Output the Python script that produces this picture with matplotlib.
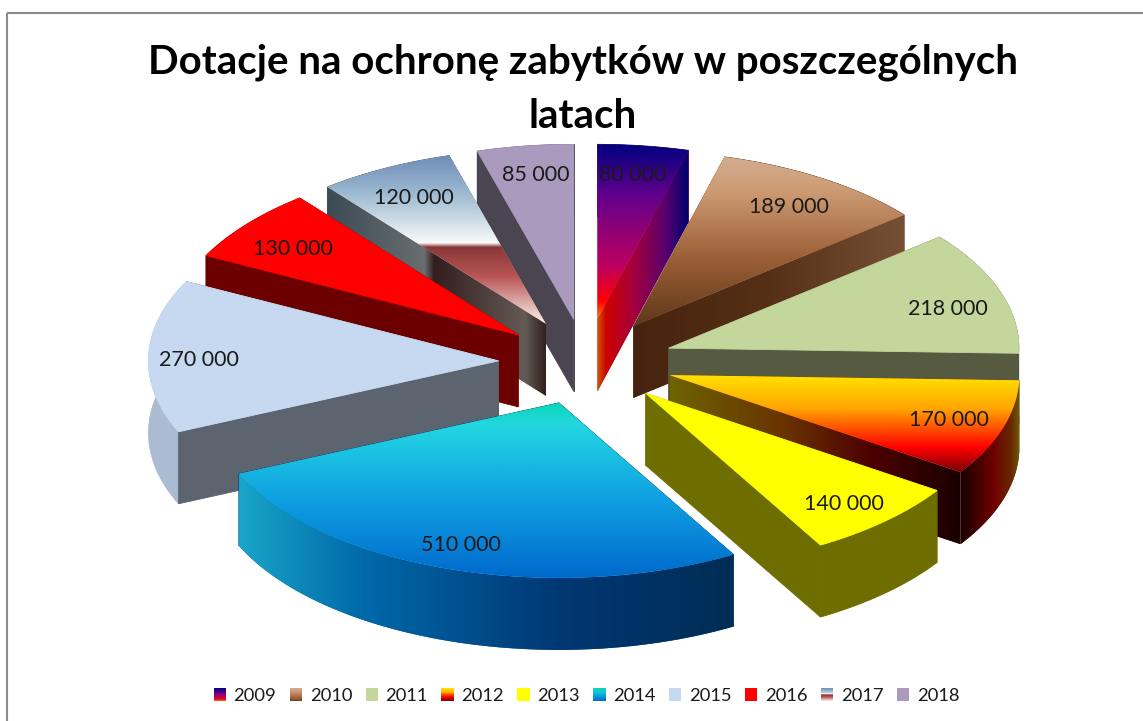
import numpy as np
import matplotlib
matplotlib.use("Agg")
import matplotlib.pyplot as plt
from matplotlib.colors import LinearSegmentedColormap, to_hex
from matplotlib.patches import Polygon, Rectangle, Patch
from matplotlib.legend_handler import HandlerBase

# ---------- data ----------
TITLE = "Dotacje na ochronę zabytków w poszczególnych\nlatach"
YEARS = ["2009", "2010", "2011", "2012", "2013", "2014", "2015", "2016", "2017", "2018"]
VALUES = [80000, 189000, 218000, 170000, 140000, 510000, 270000, 130000, 120000, 85000]


def rgb(*c):
    return tuple(v / 255 for v in c)


def stops(*pairs):
    return [(p, rgb(*c)) for p, c in pairs]


# ---------- styles: top face (vertical), cut face / outer face (horizontal) ----------
TOP = [
    stops((0, (0, 0, 128)), (.3, (100, 0, 140)), (.7, (190, 0, 95)), (.9, (255, 0, 0)), (1, (255, 130, 0))),
    stops((0, (212, 172, 145)), (.2, (205, 155, 115)), (.6, (155, 95, 55)), (1, (95, 55, 25))),
    stops((0, (195, 214, 155)), (1, (195, 214, 155))),
    stops((0, (255, 228, 0)), (.35, (255, 165, 0)), (.75, (255, 0, 0)), (1, (120, 0, 10))),
    stops((0, (255, 255, 0)), (1, (255, 255, 0))),
    stops((0, (10, 215, 180)), (.12, (35, 215, 225)), (.55, (15, 160, 225)), (1, (0, 105, 205))),
    stops((0, (198, 217, 240)), (1, (198, 217, 240))),
    stops((0, (255, 0, 0)), (1, (255, 0, 0))),
    stops((0, (110, 140, 185)), (.2, (150, 180, 205)), (.42, (215, 228, 235)), (.52, (250, 250, 250)),
          (.545, (135, 55, 55)), (.72, (185, 85, 85)), (.93, (235, 205, 200)), (1, (250, 240, 235))),
    stops((0, (170, 155, 190)), (1, (170, 155, 190))),
]
CUT = [
    stops((0, (205, 95, 0)), (.1, (205, 0, 0)), (.4, (165, 0, 60)), (.75, (90, 0, 110)), (1, (0, 0, 110))),
    stops((0, (70, 35, 15)), (.5, (85, 48, 22)), (1, (118, 80, 52))),
    stops((0, (85, 90, 65)), (1, (85, 90, 65))),
    stops((0, (110, 100, 0)), (.4, (105, 50, 0)), (.7, (75, 0, 0)), (1, (25, 0, 0))),
    stops((0, (110, 110, 0)), (1, (110, 110, 0))),
    stops((0, (0, 60, 110)), (1, (0, 60, 110))),
    stops((0, (92, 100, 112)), (1, (92, 100, 112))),
    stops((0, (108, 0, 0)), (1, (108, 0, 0))),
    stops((0, (60, 75, 85)), (.44, (105, 110, 112)), (.485, (50, 30, 30)), (.9, (100, 90, 85)), (1, (45, 30, 25))),
    stops((0, (74, 69, 80)), (1, (74, 69, 80))),
]
ARC = [
    stops((0, (0, 0, 110)), (1, (0, 0, 110))),
    stops((0, (90, 50, 25)), (1, (90, 50, 25))),
    stops((0, (85, 90, 65)), (1, (85, 90, 65))),
    stops((0, (25, 0, 0)), (.55, (110, 0, 0)), (.85, (105, 40, 0)), (1, (110, 95, 0))),
    stops((0, (110, 110, 0)), (1, (110, 110, 0))),
    stops((0, (25, 165, 200)), (.25, (0, 105, 170)), (.65, (0, 55, 115)), (1, (0, 45, 85))),
    stops((0, (170, 187, 210)), (1, (170, 187, 210))),
    stops((0, (108, 0, 0)), (1, (108, 0, 0))),
    stops((0, (60, 75, 85)), (1, (60, 75, 85))),
    stops((0, (74, 69, 80)), (1, (74, 69, 80))),
]
LEGEND = [
    stops((0, (0, 0, 128)), (.5, (130, 0, 130)), (.85, (230, 0, 40)), (1, (255, 110, 0))),
    stops((0, (212, 172, 145)), (.5, (190, 130, 90)), (1, (120, 70, 35))),
    TOP[2],
    stops((0, (255, 228, 0)), (.35, (255, 165, 0)), (.7, (255, 0, 0)), (1, (120, 0, 10))),
    TOP[4],
    stops((0, (10, 215, 180)), (.4, (20, 190, 225)), (1, (0, 105, 205))),
    TOP[6],
    TOP[7],
    TOP[8],
    TOP[9],
]

# ---------- pie geometry (image pixels) ----------
W, H = 1143, 721
CX, CY = 586, 362
RADIUS = 350
SQUASH = 0.5
EXPLODE_X, EXPLODE_Y = 87.5, 43
DEPTH = 72
# label position along the slice's middle direction, per slice
LABEL_FX = [.76, .818, .841, .837, .829, .899, .855, .83, .822, .783]
LABEL_FY = [.847, .827, .745, .79, .84, .839, .87, .805, .826, .848]
LABEL_DY = 3

plt.rcParams["font.family"] = ["Lato", "DejaVu Sans"]
fig = plt.figure(figsize=(W / 100, H / 100), dpi=100, facecolor="white")
ax = fig.add_axes([0, 0, 1, 1])
ax.set_xlim(0, W)
ax.set_ylim(H, 0)
ax.axis("off")

ax.add_patch(Rectangle((7, 13), W + 20, H + 20, fill=False, edgecolor="#8c8c8c", linewidth=1.5, zorder=0))

zorder = [1]


def paint(points, colour_stops, vertical):
    """Fill one face, flat or with a linear gradient clipped to it."""
    z = zorder[0]
    zorder[0] += 1
    mean = tuple(np.mean([c for _, c in colour_stops], axis=0))
    flat = all(c == colour_stops[0][1] for _, c in colour_stops)
    colour = colour_stops[0][1] if flat else mean
    poly = Polygon(points, closed=True, facecolor=colour, edgecolor=colour if flat else "none",
                   linewidth=0.6 if flat else 0, zorder=z)
    ax.add_patch(poly)
    if flat:
        return
    cmap = LinearSegmentedColormap.from_list("g", colour_stops, N=512)
    ramp = np.linspace(0, 1, 512).reshape((-1, 1) if vertical else (1, -1))
    x0, y0 = points.min(axis=0)
    x1, y1 = points.max(axis=0)
    im = ax.imshow(ramp, cmap=cmap, extent=(x0, x1, y1, y0), origin="upper",
                   aspect="auto", zorder=z + 0.5, interpolation="bilinear", vmin=0, vmax=1)
    im.set_clip_path(poly)


total = sum(VALUES)
edges = np.concatenate([[0], np.cumsum(VALUES)]) / total * 2 * np.pi
mids = (edges[:-1] + edges[1:]) / 2
apex_x = CX + EXPLODE_X * np.sin(mids)
apex_y = CY - EXPLODE_Y * np.cos(mids)

for i in np.argsort(apex_y):
    a0, a1 = edges[i], edges[i + 1]
    ax_, ay_ = apex_x[i], apex_y[i]
    arc_a = np.linspace(a0, a1, 80)
    arc = np.column_stack([ax_ + RADIUS * np.sin(arc_a), ay_ - RADIUS * SQUASH * np.cos(arc_a)])
    apex = np.array([[ax_, ay_]])
    drop = np.array([0, DEPTH])

    start_cut = np.vstack([apex, arc[:1], arc[:1] + drop, apex + drop])
    end_cut = np.vstack([apex, arc[-1:], arc[-1:] + drop, apex + drop])
    outer = np.vstack([arc, (arc + drop)[::-1]])
    sides = [(start_cut, CUT[i]), (end_cut, CUT[i]), (outer, ARC[i])]
    for pts, st in sorted(sides, key=lambda s: s[0][:, 1].mean()):
        paint(pts, st, False)
    paint(np.vstack([apex, arc]), TOP[i], True)

    ax.text(ax_ + LABEL_FX[i] * RADIUS * np.sin(mids[i]),
            ay_ - LABEL_FY[i] * RADIUS * SQUASH * np.cos(mids[i]) + LABEL_DY,
            f"{VALUES[i]:,}".replace(",", " "),
            ha="center", va="center", fontsize=15.5, color="#1a1a1a", zorder=500)

ax.set_xlim(0, W)
ax.set_ylim(H, 0)

ax.set_title(TITLE, x=583 / W, y=1 - 143 / H, fontsize=29, fontweight="bold",
             color="black", linespacing=1.57, va="bottom")


class GradientHandler(HandlerBase):
    def create_artists(self, legend, orig, xd, yd, w, h, fontsize, trans):
        cmap = LinearSegmentedColormap.from_list("l", orig.gradient)
        n = 14
        return [Rectangle((-xd, -yd + h * (n - 1 - k) / n), w, h / n + 0.2,
                          facecolor=to_hex(cmap((k + .5) / n)), edgecolor="none", transform=trans)
                for k in range(n)]


handles = []
for st in LEGEND:
    p = Patch()
    p.gradient = st
    handles.append(p)
ax.legend(handles, YEARS, ncol=10, loc="center", bbox_to_anchor=(586.5 / W, 1 - 696 / H),
          frameon=False, fontsize=13.2, handler_map={Patch: GradientHandler()},
          handlelength=0.66, handleheight=0.66, handletextpad=0.42, columnspacing=0.74,
          labelcolor="#1a1a1a", borderpad=0, borderaxespad=0)

fig.savefig("out.png", dpi=100, facecolor="white")
